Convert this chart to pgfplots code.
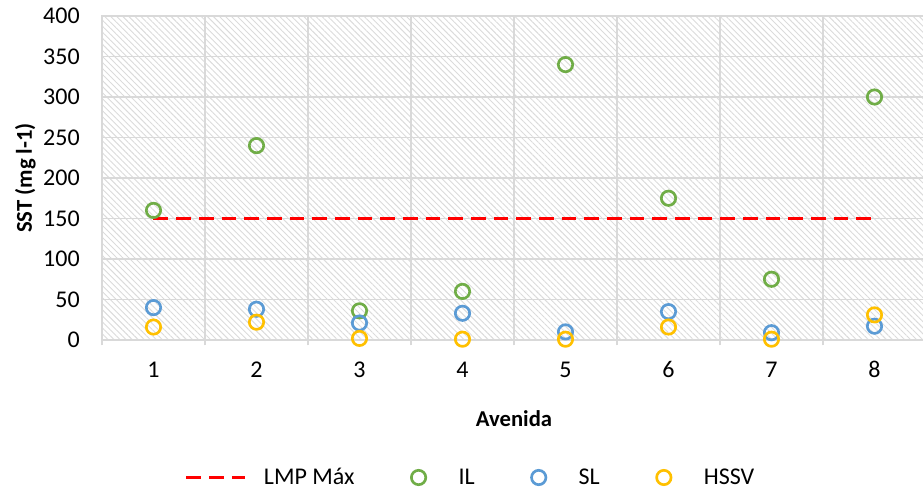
\documentclass[border=0pt]{standalone}
\usepackage{fontspec}
\setmainfont{Carlito}
\usepackage{pgfplots}
\pgfplotsset{compat=1.18}
\usetikzlibrary{patterns.meta}
\definecolor{cIL}{HTML}{70AD47}
\definecolor{cSL}{HTML}{5B9BD5}
\definecolor{cHS}{HTML}{FFC000}
\definecolor{cGrid}{HTML}{D9D9D9}
\pgfplotsset{markleg/.style={legend image code/.code={%
  \path[draw=none, fill=none] (-6.4pt,-6.4pt) rectangle (17.25pt,6.4pt);
  \draw[##1] plot coordinates {(0pt,0pt)};}}}
\begin{document}
\begin{tikzpicture}[font=\fontsize{18}{21}\selectfont]
\begin{axis}[
  scale only axis, width=618pt, height=243pt,
  xmin=0.5, xmax=8.5, ymin=0, ymax=400,
  xtick={1,...,8}, minor xtick={0.5,1.5,...,8.5},
  ytick={0,50,...,400},
  ymajorgrids, xminorgrids,
  grid style={draw=cGrid, line width=1.1pt},
  minor grid style={draw=cGrid, line width=1.1pt},
  axis line style={draw=cGrid, line width=1.1pt},
  tick style={draw=cGrid, line width=1.1pt},
  major tick length=0pt, minor tick length=4pt,
  tick align=outside, tick pos=left,
  /pgf/number format/assume math mode=true,
  xticklabel style={anchor=base, inner sep=0pt, yshift=-28.5pt},
  yticklabel style={anchor=east, inner sep=0pt, xshift=-16.5pt},
  axis background/.style={pattern={Lines[angle=-45, distance=3.2pt, line width=0.7pt]}, pattern color=gray!28},
  every axis y label/.style={at={(axis description cs:-0.093,0.5)}, anchor=center, rotate=90, inner sep=0pt, font=\fontsize{17}{20}\selectfont\bfseries},
  every axis x label/.style={at={(axis description cs:0.5,-0.243)}, anchor=center, inner sep=0pt, font=\fontsize{17}{20}\selectfont\bfseries},
  ylabel={SST (mg l-1)}, xlabel={Avenida},
  legend style={at={(axis description cs:0.1007,-0.4244)}, anchor=west, draw=none, fill=none, legend columns=4,
    inner sep=0pt, outer sep=0pt,
    nodes={inner sep=0pt},
    /tikz/every odd column/.append style={column sep=12.75pt},
    /tikz/every even column/.append style={column sep=41.6pt}},
  clip=false,
]
\addplot[red, line width=2.25pt, dash pattern=on 11pt off 6pt,
  legend image code/.code={\draw[##1] (0pt,0pt) -- (44.25pt,0pt);}]
  coordinates {(1,150) (8,150)};
\addlegendentry{LMP Máx}
\addplot[only marks, mark=o, mark size=5.4pt, mark options={draw=cIL, fill=white, line width=2pt}, markleg]
  coordinates {(1,160) (2,240) (3,36) (4,60) (5,340) (6,175) (7,75) (8,300)};
\addlegendentry{IL}
\addplot[only marks, mark=o, mark size=5.4pt, mark options={draw=cSL, fill=white, line width=2pt}, markleg]
  coordinates {(1,40) (2,38) (3,21) (4,33) (5,10) (6,35) (7,9) (8,17)};
\addlegendentry{SL}
\addplot[only marks, mark=o, mark size=5.4pt, mark options={draw=cHS, fill=white, line width=2pt}, markleg]
  coordinates {(1,16) (2,22) (3,2) (4,1) (5,1) (6,16) (7,1) (8,31)};
\addlegendentry{HSSV}
\coordinate (ll) at (rel axis cs:0,0);
\coordinate (ur) at (rel axis cs:1,1);
\end{axis}
\pgfresetboundingbox
\path[use as bounding box] ([xshift=-76.5pt, yshift=-113.25pt]ll) rectangle ([xshift=-2.25pt, yshift=12pt]ur);
\end{tikzpicture}
\end{document}
